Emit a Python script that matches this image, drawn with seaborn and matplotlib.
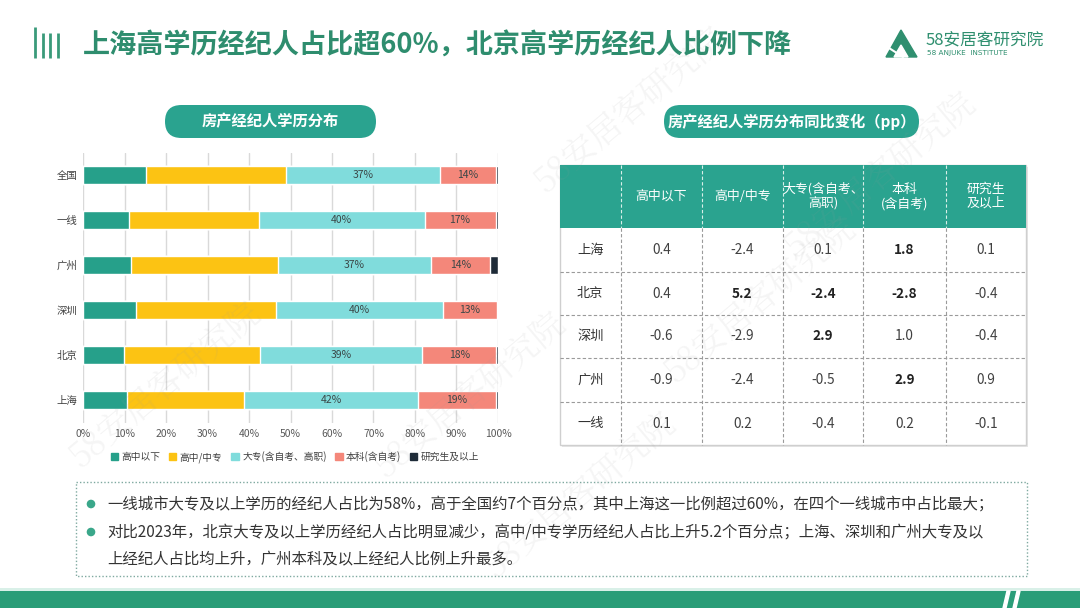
import numpy as np
import pandas as pd
import seaborn as sns
import matplotlib.pyplot as plt
from matplotlib.patches import FancyBboxPatch, Rectangle, Circle, Polygon, Patch

# 左图：房产经纪人学历分布 (%)
cities = ['全国', '一线', '广州', '深圳', '北京', '上海']
levels = ['高中以下', '高中/中专', '大专(含自考、高职)', '本科(含自考)', '研究生及以上']
below_hs = [15.3, 11.0, 11.5, 12.7, 9.8, 10.7]
high_school = [33.7, 31.3, 35.5, 33.9, 32.8, 28.1]
college = [37.0, 40.0, 36.8, 40.1, 39.1, 41.9]
bachelor = [13.5, 17.1, 14.2, 13.1, 17.9, 18.9]
master = [0.5, 0.6, 2.0, 0.2, 0.4, 0.4]

# 右表：同比变化 (pp)
tbl_rows = ['上海', '北京', '深圳', '广州', '一线']
tbl_cols = ['高中以下', '高中/中专', '大专(含自考、\n高职)', '本科\n(含自考)', '研究生\n及以上']
tbl_vals = [
    [0.4, -2.4, 0.1, 1.8, 0.1],
    [0.4, 5.2, -2.4, -2.8, -0.4],
    [-0.6, -2.9, 2.9, 1.0, -0.4],
    [-0.9, -2.4, -0.5, 2.9, 0.9],
    [0.1, 0.2, -0.4, 0.2, -0.1],
]
bold_cells = [(0, 3), (1, 1), (1, 2), (1, 3), (2, 2), (3, 3)]

title = '上海高学历经纪人占比超60%，北京高学历经纪人比例下降'
notes = [
    '一线城市大专及以上学历的经纪人占比为58%，高于全国约7个百分点，其中上海这一比例超过60%，在四个一线城市中占比最大；',
    '对比2023年，北京大专及以上学历经纪人占比明显减少，高中/中专学历经纪人占比上升5.2个百分点；上海、深圳和广州大专及以',
    '上经纪人占比均上升，广州本科及以上经纪人比例上升最多。',
]
watermark = '58安居客研究院'

sns.set_style('white')
plt.rcParams['font.family'] = ['Noto Sans CJK SC', 'DejaVu Sans']

green = '#2e8d6e'
teal = '#2aa38f'
colors = ['#26a08a', '#fcc313', '#80dcdc', '#f4877a', '#1e2b38']

W, H = 1080, 608
fig = plt.figure(figsize=(W / 100, H / 100), dpi=100)

# 像素坐标画布，用于标题、标签框、表格和文字说明
cv = fig.add_axes([0, 0, 1, 1])
cv.set_xlim(0, W)
cv.set_ylim(H, 0)
cv.axis('off')

# 标题图标
for i, x in enumerate([35, 42.5, 50, 57.5]):
    cv.plot([x, x], [27 if i == 0 else 33, 58], color='#3a9a7a', lw=2, solid_capstyle='butt')
cv.text(83, 46, title, fontsize=19.5, fontweight='bold', color=green, va='center', ha='left')

# logo
cv.add_patch(Polygon([(886, 57), (901, 30), (917, 57)], closed=True, color='#2f8f6f'))
cv.add_patch(Polygon([(894, 57), (901, 45), (908, 57)], closed=True, color='white'))
cv.plot([889, 903], [48, 57], color='white', lw=1.5)
cv.text(926, 40, '58安居客研究院', fontsize=12, color='#2f8f6f', va='center', ha='left')
cv.text(927, 53, '58 ANJUKE  INSTITUTE', fontsize=5.2, color='#2f8f6f', va='center', ha='left',
        family='DejaVu Sans')

# 小标题
for (x0, x1, txt) in [(149, 392, '房产经纪人学历分布'), (648, 935, '房产经纪人学历分布同比变化（pp）')]:
    cv.add_patch(FancyBboxPatch((x0 + 16, 105), x1 - x0 - 32, 33,
                                boxstyle='round,pad=0,rounding_size=16.5',
                                fc=teal, ec='none', mutation_aspect=1))
    cv.text((x0 + x1) / 2, 121.5, txt, fontsize=11, fontweight='bold', color='white',
            ha='center', va='center')

# 左图：堆叠条形图
ax = fig.add_axes([83 / W, 1 - 422.5 / H, 415 / W, 270 / H])
parts = np.array([below_hs, high_school, college, bachelor, master])
cum = np.cumsum(parts, axis=0)
for i in reversed(range(len(levels))):
    sns.barplot(x=cum[i], y=cities, orient='h', color=colors[i], width=0.38,
                saturation=1, ax=ax, zorder=2)
for j, c in enumerate(cities):
    for k in (2, 3):
        ax.text(cum[k - 1][j] + parts[k][j] / 2, j, f'{parts[k][j]:.0f}%',
                ha='center', va='center', fontsize=7.5, color='#3b4747', zorder=3)
ax.set_xlim(0, 100)
ax.set_ylim(len(cities) - 0.5, -0.5)
ax.set_xticks(range(0, 101, 10))
ax.set_xticklabels([f'{t}%' for t in range(0, 101, 10)])
ax.xaxis.grid(True, color='#d9d9d9', lw=1, zorder=0)
ax.set_axisbelow(True)
ax.tick_params(axis='x', length=0, pad=5, labelsize=7.5, labelcolor='#595959')
ax.tick_params(axis='y', length=0, pad=4, labelsize=7.5, labelcolor='#404040')
ax.set_xlabel('')
ax.set_ylabel('')
sns.despine(ax=ax, left=True, bottom=True)
ax.set_facecolor('none')
handles = [Patch(color=colors[i], label=levels[i]) for i in range(len(levels))]
ax.legend(handles=handles, loc='center', bbox_to_anchor=(295, 457), bbox_transform=cv.transData,
          ncol=5, frameon=False, fontsize=7, handlelength=0.75, handleheight=0.75,
          handletextpad=0.35, columnspacing=0.9, labelcolor='#404040')

# 右表
col_edges = [560, 621, 702, 783, 863, 946, 1026]
row_edges = [165, 228, 272, 315, 358, 402, 445]
cv.add_patch(Rectangle((col_edges[0] + 2, row_edges[0] + 2), col_edges[-1] - col_edges[0],
                       row_edges[-1] - row_edges[0], fc='#e6e6e6', ec='none'))
cv.add_patch(Rectangle((col_edges[0], row_edges[0]), col_edges[-1] - col_edges[0],
                       row_edges[-1] - row_edges[0], fc='white', ec='#cfcfcf', lw=1))
cv.add_patch(Rectangle((col_edges[0], row_edges[0]), col_edges[-1] - col_edges[0],
                       row_edges[1] - row_edges[0], fc=teal, ec='none'))
for x in col_edges[1:-1]:
    cv.plot([x, x], [row_edges[0], row_edges[1]], color='#d8efe9', lw=0.8, ls=(0, (3, 2)))
    cv.plot([x, x], [row_edges[1], row_edges[-1]], color='#9a9a9a', lw=0.8, ls=(0, (3, 2)))
for y in row_edges[2:-1]:
    cv.plot([col_edges[0], col_edges[-1]], [y, y], color='#9a9a9a', lw=0.8, ls=(0, (3, 2)))
for j, name in enumerate(tbl_cols):
    xc = (col_edges[j + 1] + col_edges[j + 2]) / 2
    cv.text(xc, (row_edges[0] + row_edges[1]) / 2, name, fontsize=9.3, color='white',
            ha='center', va='center', linespacing=1.1)
for i, name in enumerate(tbl_rows):
    yc = (row_edges[i + 1] + row_edges[i + 2]) / 2
    cv.text(577, yc, name, fontsize=9.5, color='#333333', ha='left', va='center')
    for j, v in enumerate(tbl_vals[i]):
        xc = (col_edges[j + 1] + col_edges[j + 2]) / 2
        cv.text(xc, yc, f'{v:.1f}', fontsize=9.8, color='#222222' if (i, j) in bold_cells else '#404040',
                fontweight='bold' if (i, j) in bold_cells else 'normal', ha='center', va='center')

# 文字说明框
cv.add_patch(Rectangle((76, 482), 951, 94, fc='none', ec='#7fa9a0', lw=1, ls=(0, (1, 1.5))))
for k, (yy, txt) in enumerate(zip([504, 532, 560], notes)):
    if k < 2:
        cv.add_patch(Circle((91, yy), 3.6, color='#3aa78a'))
    cv.text(107, yy, txt, fontsize=11.1, color='#333333', ha='left', va='center')

# 底部色带
cv.add_patch(Rectangle((0, 591), W, 17, fc='#2a9d78', ec='none'))
cv.add_patch(Rectangle((0, 588), W, 3, fc='#d9f0e8', ec='none'))
for x in (1003, 1013):
    cv.add_patch(Polygon([(x + 4, 591), (x + 7, 591), (x + 3, 608), (x, 608)], color='white'))

# 水印
wm = fig.add_axes([0, 0, 1, 1], zorder=10)
wm.set_xlim(0, W)
wm.set_ylim(H, 0)
wm.axis('off')
for (x, y) in [(165, 385), (470, 395), (760, 300), (630, 110), (880, 175), (580, 495)]:
    wm.text(x, y, watermark, fontsize=24, color='#9a9a9a', alpha=0.10, rotation=40,
            ha='center', va='center', family=['Noto Serif CJK SC', 'Noto Sans CJK SC'])

plt.savefig('out.png', dpi=100)
